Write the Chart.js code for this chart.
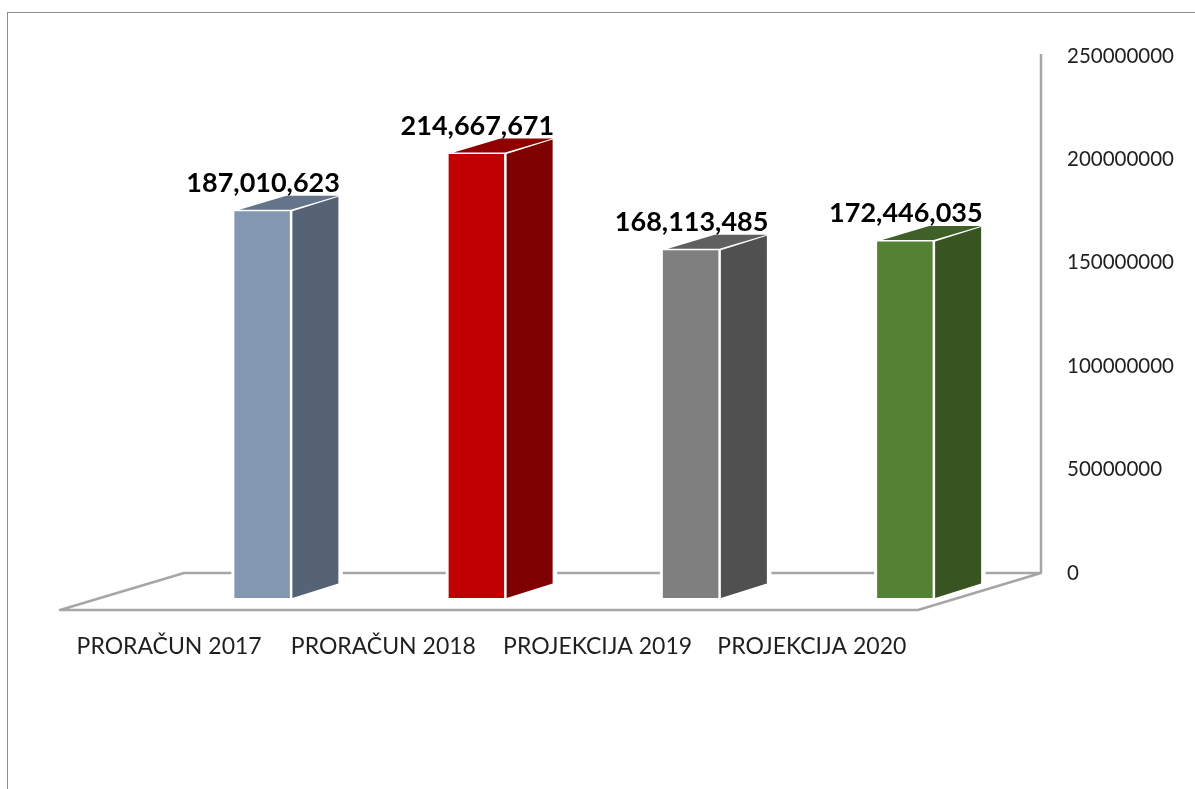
<!DOCTYPE html>
<html>
<head>
<meta charset="utf-8">
<title>Proračun</title>
<script src="https://cdn.jsdelivr.net/npm/chart.js@4"></script>
<style>
  html, body { margin: 0; padding: 0; background: #fff; overflow: hidden; }
  #wrap { position: relative; width: 1195px; height: 789px; }
  #frame { position: absolute; left: 7px; top: 12px; right: -5px; bottom: -5px; border: 1.5px solid #8c8c8c; }
  canvas { position: absolute; left: 0; top: 0; }
</style>
</head>
<body>
<div id="wrap">
  <div id="frame"></div>
  <canvas id="budgetChart" width="1195" height="789"></canvas>
</div>
<script>
const categories = ["PRORAČUN 2017", "PRORAČUN 2018", "PROJEKCIJA 2019", "PROJEKCIJA 2020"];
const budgetValues = [187010623, 214667671, 168113485, 172446035];
const tickValues = [0, 50000000, 100000000, 150000000, 200000000, 250000000];

const frontColors = ["#8497B0", "#C00000", "#7F7F7F", "#548235"];
const sideColors = ["#566375", "#7F0000", "#505050", "#375421"];
const topColors = ["#64748A", "#900000", "#606060", "#3F6127"];

const FONT = "Lato, 'Open Sans', sans-serif";
const DEPTH_X = 47; // how far the back of a bar is shifted
const DEPTH_Y = 14.5;

// draws the floor, the back axis and the sides of the bars
const box3d = {
  id: "box3d",
  beforeDatasetsDraw(chart) {
    const ctx = chart.ctx;
    const y0 = chart.scales.y.getPixelForValue(0);
    const yMax = chart.scales.y.getPixelForValue(250000000);
    const backY = y0 - 25;

    ctx.save();
    ctx.strokeStyle = "#a6a6a6";
    ctx.lineWidth = 2.5;
    ctx.lineJoin = "round";
    ctx.beginPath();
    ctx.moveTo(1041, yMax - 27);
    ctx.lineTo(1041, backY);
    ctx.lineTo(918, y0 + 12);
    ctx.lineTo(60, y0 + 12);
    ctx.lineTo(184, backY);
    ctx.lineTo(1041, backY);
    ctx.stroke();

    chart.getDatasetMeta(0).data.forEach((bar, i) => {
      const right = bar.x + bar.width / 2;
      const left = bar.x - bar.width / 2;
      const gap = 2.5;

      // clear the floor line around the bar
      ctx.fillStyle = "#fff";
      ctx.fillRect(left - 3, backY - 2, bar.width + DEPTH_X + 9, 4);

      ctx.fillStyle = sideColors[i];
      ctx.beginPath();
      ctx.moveTo(right + gap, bar.y);
      ctx.lineTo(right + gap + DEPTH_X - 1, bar.y - DEPTH_Y);
      ctx.lineTo(right + gap + DEPTH_X - 1, bar.base - DEPTH_Y);
      ctx.lineTo(right + gap, bar.base);
      ctx.closePath();
      ctx.fill();

      ctx.fillStyle = topColors[i];
      ctx.beginPath();
      ctx.moveTo(left + 5, bar.y - 1.5);
      ctx.lineTo(left + 5 + DEPTH_X, bar.y - DEPTH_Y - 1);
      ctx.lineTo(right + gap + DEPTH_X - 1, bar.y - DEPTH_Y - 1);
      ctx.lineTo(right + 1, bar.y - 1.5);
      ctx.closePath();
      ctx.fill();
    });
    ctx.restore();
  },
  afterDatasetsDraw(chart) {
    const ctx = chart.ctx;
    ctx.save();
    ctx.font = "bold 27px " + FONT;
    ctx.fillStyle = "#000";
    ctx.textAlign = "center";
    ctx.textBaseline = "middle";
    chart.getDatasetMeta(0).data.forEach((bar, i) => {
      ctx.fillText(budgetValues[i].toLocaleString("en-US"), bar.x + 1, bar.y - 28);
    });
    ctx.restore();
  }
};

new Chart(document.getElementById("budgetChart"), {
  type: "bar",
  data: {
    labels: categories,
    datasets: [{
      data: budgetValues,
      backgroundColor: frontColors,
      borderWidth: 0,
      barPercentage: 0.259,
      categoryPercentage: 1
    }]
  },
  options: {
    responsive: false,
    animation: false,
    layout: { padding: { left: 155, top: 81, right: 0, bottom: 0 } },
    plugins: { legend: { display: false }, tooltip: { enabled: false } },
    scales: {
      x: {
        grid: { display: false },
        border: { display: false },
        afterFit(scale) { scale.height = 191; }, // keeps the floor at y = 598
        ticks: {
          labelOffset: -93,
          padding: 27,
          maxRotation: 0,
          autoSkip: false,
          color: "#1f1f1f",
          font: { family: FONT, size: 23 }
        }
      },
      y: {
        position: "right",
        min: 0,
        max: 250000000,
        grid: { display: false },
        border: { display: false },
        afterFit(scale) { scale.width = 183; },
        afterBuildTicks(scale) { scale.ticks = tickValues.map(v => ({ value: v })); },
        ticks: {
          labelOffset: -25, // labels sit on the back wall
          padding: 47,
          color: "#1f1f1f",
          font: { family: FONT, size: 20.5 },
          callback: v => String(v)
        }
      }
    }
  },
  plugins: [box3d]
});
</script>
</body>
</html>
